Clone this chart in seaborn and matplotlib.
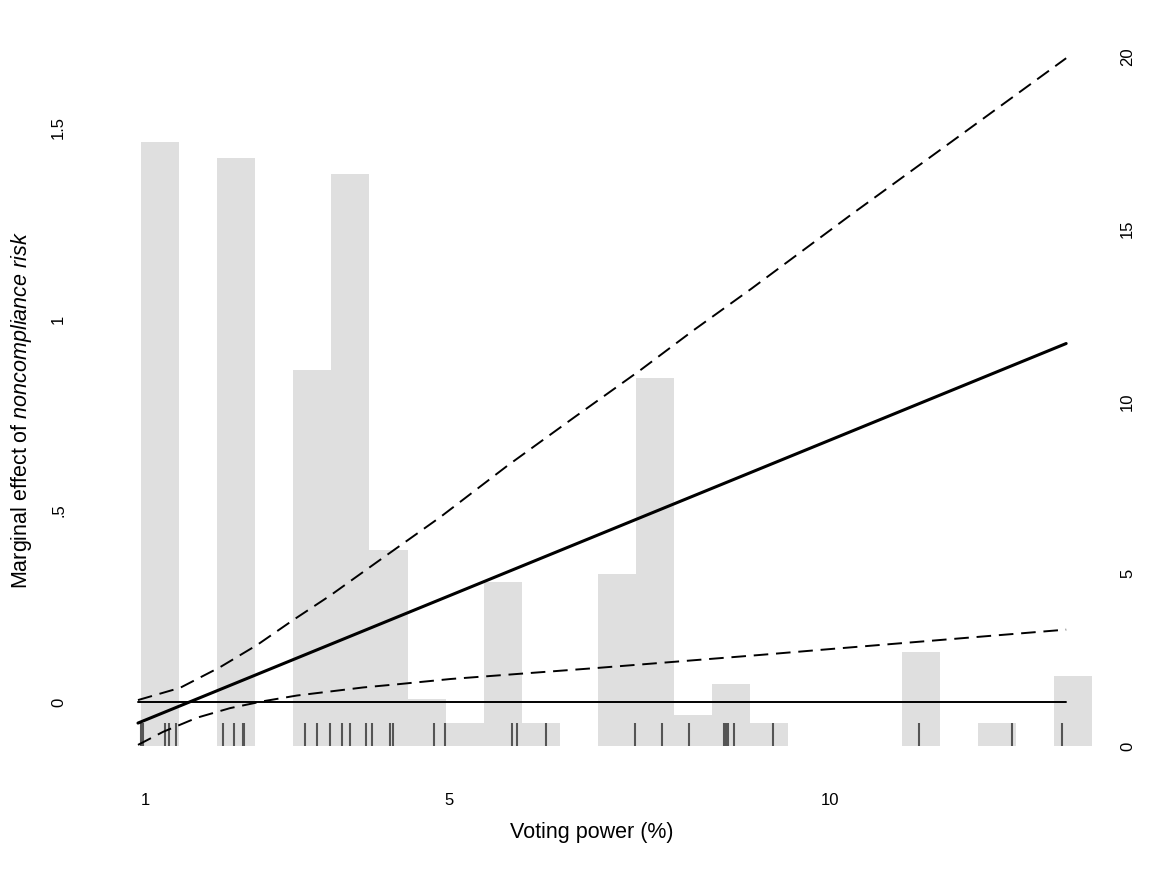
import numpy as np
import pandas as pd
import matplotlib
matplotlib.use("Agg")
import matplotlib.pyplot as plt
import seaborn as sns

# ===== data =====
# histogram: share of observations (%) per 0.5-wide bin of voting power (right axis)
bin_mid = [1.2, 2.2, 3.2, 3.7, 4.2, 4.7, 5.2, 5.7, 6.2, 7.2, 7.7, 8.2, 8.7, 9.2, 11.2, 12.2, 13.2]
bin_pct = [17.52, 17.07, 10.91, 16.61, 5.69, 1.36, 0.67, 4.77, 0.67, 4.99, 10.69, 0.91, 1.80,
           0.67, 2.73, 0.67, 2.03]

# observed voting power values (rug)
rug_x = [0.943, 0.978, 1.263, 1.316, 1.404, 2.026, 2.171, 2.289, 2.303, 3.105, 3.263, 3.434,
         3.592, 3.697, 3.908, 3.987, 4.224, 4.263, 4.803, 4.947, 5.829, 5.882, 6.276, 7.434,
         7.789, 8.145, 8.605, 8.632, 8.658, 8.737, 9.250, 11.170, 12.390, 13.050]

# marginal effect (left axis)
me_x = [0.908, 13.105]
me_y = [-0.055, 0.936]

# upper / lower 95% confidence bounds
hi_x = [0.908, 1.461, 1.987, 2.474, 2.947, 3.434, 4.053, 4.882, 5.763, 6.632, 7.513, 8.211,
        8.961, 10.276, 11.592, 13.105]
hi_y = [0.005, 0.037, 0.091, 0.149, 0.214, 0.278, 0.366, 0.483, 0.617, 0.742, 0.867, 0.971,
        1.078, 1.272, 1.462, 1.681]
lo_x = [0.908, 1.237, 1.684, 2.118, 2.553, 3.0, 3.868, 4.355, 5.013, 6.95, 9.092, 9.87, 13.105]
lo_y = [-0.112, -0.078, -0.041, -0.016, 0.002, 0.017, 0.038, 0.047, 0.060, 0.089, 0.123, 0.136, 0.189]

zero_x = [0.908, 13.105]
zero_y = [0, 0]

# ===== style =====
sns.set_style("white")
plt.rcParams['font.family'] = ['Liberation Sans', 'DejaVu Sans']
plt.rcParams['mathtext.fontset'] = 'custom'
plt.rcParams['mathtext.rm'] = 'Liberation Sans'
plt.rcParams['mathtext.it'] = 'Liberation Sans:italic'
plt.rcParams['text.color'] = 'black'
plt.rcParams['axes.labelcolor'] = 'black'
plt.rcParams['xtick.color'] = 'black'
plt.rcParams['ytick.color'] = 'black'

fig = plt.figure(figsize=(11.75, 8.74), dpi=100)
ax = fig.add_axes([130 / 1175, 1 - 746 / 874, 965 / 1175, 706 / 874])
ax2 = ax.twinx()

# histogram + rug on the right axis (drawn underneath)
sns.histplot(x=bin_mid, weights=bin_pct, binwidth=0.5, binrange=(0.95, 13.45),
             color='#dfdfdf', alpha=1, linewidth=0, edgecolor='none', ax=ax2)
sns.rugplot(x=rug_x, height=23 / 706, color='#555555', linewidth=1.5,
            expand_margins=False, ax=ax2)

# lines on the left axis
sns.lineplot(x=zero_x, y=zero_y, color='black', linewidth=1.4, ax=ax)
sns.lineplot(x=hi_x, y=hi_y, color='black', linewidth=1.4, linestyle=(0, (7.5, 4)),
             estimator=None, sort=False, ax=ax)
sns.lineplot(x=lo_x, y=lo_y, color='black', linewidth=1.4, linestyle=(0, (7.5, 4)),
             estimator=None, sort=False, ax=ax)
sns.lineplot(x=me_x, y=me_y, color='black', linewidth=2.2, ax=ax)

ax.set_zorder(ax2.get_zorder() + 1)
ax.patch.set_visible(False)

ax.set_xlim(0.803, 13.484)
ax.set_ylim(-0.1149, 1.7285)
ax2.set_ylim(0, 20.49)

ax.set_xticks([1, 5, 10])
ax.set_xticklabels(['1', '5', '10'], fontsize=12)
ax.set_yticks([0, 0.5, 1, 1.5])
ax.set_yticklabels(['0', '.5', '1', '1.5'], rotation=90, va='center', fontsize=12)
ax2.set_yticks([0, 5, 10, 15, 20])
ax2.set_yticklabels(['0', '5', '10', '15', '20'], rotation=90, va='center', fontsize=12)
ax.tick_params(axis='x', length=0, pad=34)
ax.tick_params(axis='y', length=0, pad=46)
ax2.tick_params(axis='y', length=0, pad=18)
ax2.set_ylabel('')

for a in (ax, ax2):
    for s in a.spines.values():
        s.set_visible(False)

ax.set_xlabel('Voting power (%)', fontsize=15.5)
ax.set_ylabel(r'Marginal effect of $noncompliance\ risk$', fontsize=15.5)
ax.xaxis.set_label_coords(0.479, -0.108)
ax.yaxis.set_label_coords(-0.0995, 0.476)

fig.savefig('out.png', dpi=100, facecolor='white')
